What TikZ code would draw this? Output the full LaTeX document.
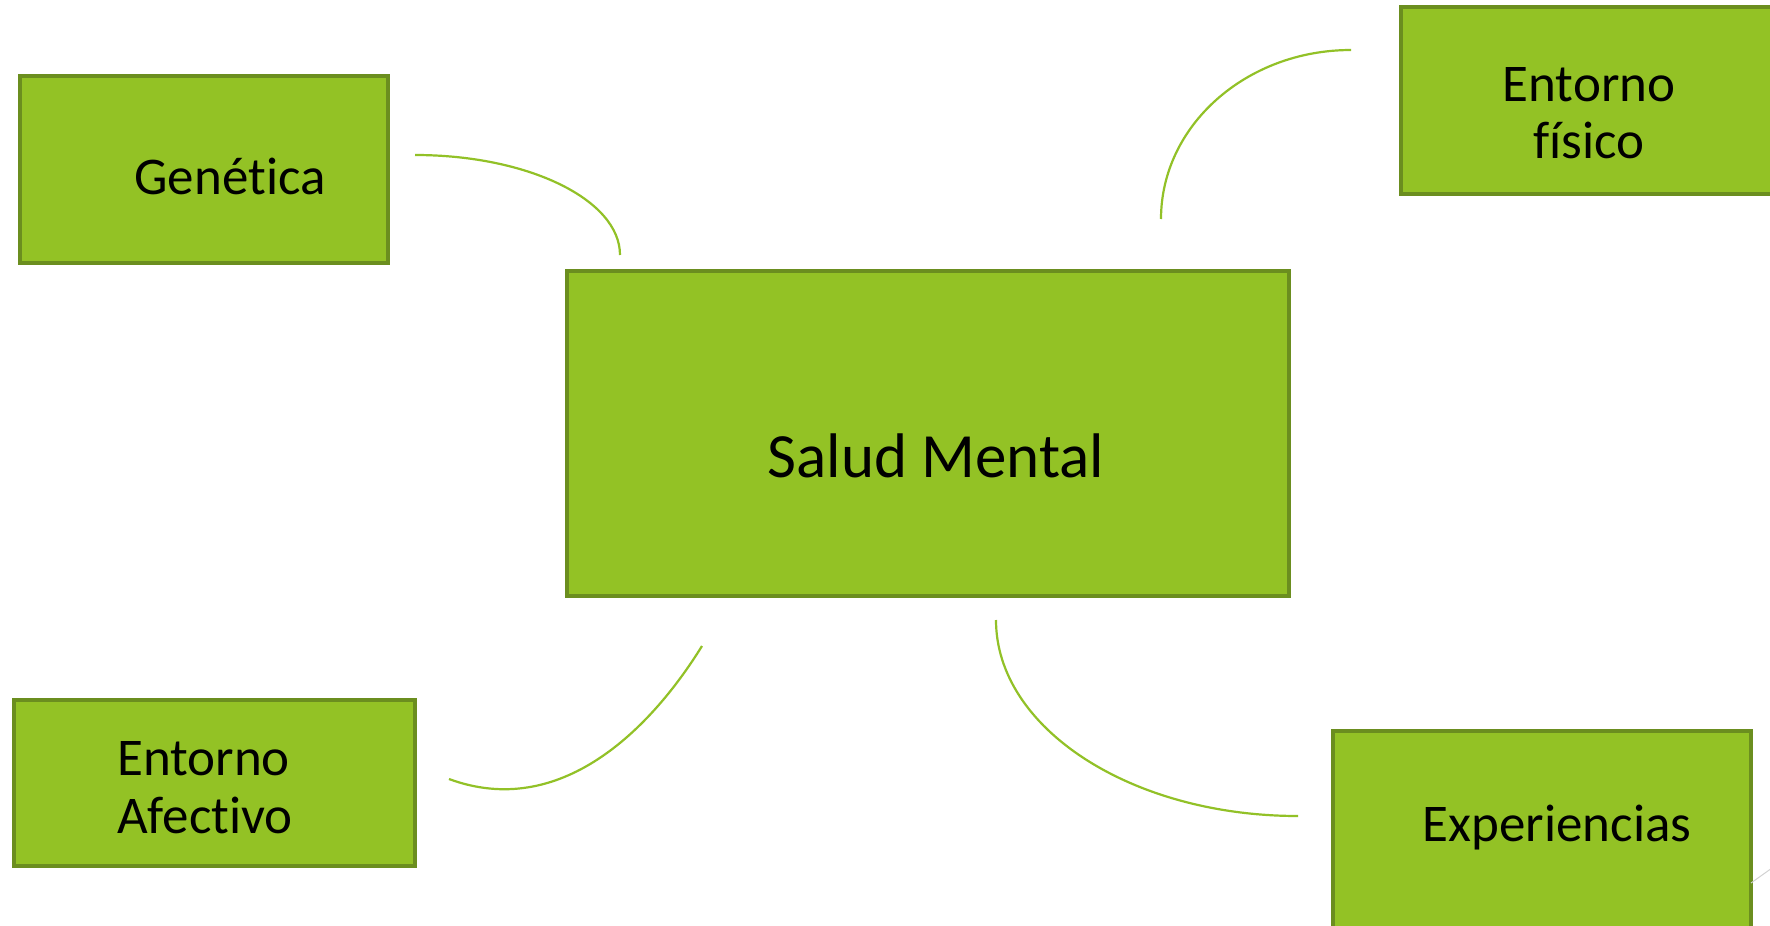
\documentclass[tikz,border=0pt]{standalone}
\usepackage{fontspec}
\setmainfont{Carlito}[Ligatures=NoCommon]
\definecolor{boxfill}{HTML}{93C225}
\definecolor{boxline}{HTML}{6B8E1F}
\definecolor{curve}{HTML}{92C127}
\begin{document}
\begin{tikzpicture}[x=1pt,y=-1pt,
  box/.style={rectangle, draw=boxline, fill=boxfill, line width=3.5pt, inner sep=0pt},
  lbl/.style={inner sep=0pt, text=black, font=\fontsize{53}{58}\selectfont},
  biglbl/.style={inner sep=0pt, text=black, font=\fontsize{63}{70}\selectfont},
  link/.style={draw=curve, line width=2.2pt}]
\useasboundingbox (0,0) rectangle (1770,926);
\fill[white] (0,0) rectangle (1770,926);

% boxes
\node[box, minimum width=368pt, minimum height=187pt] (gen) at (204,169.5) {};
\node[box, minimum width=389pt, minimum height=187pt] (fis) at (1595.5,100.5) {};
\node[box, minimum width=722pt, minimum height=325pt] (sal) at (928,433.5) {};
\node[box, minimum width=401pt, minimum height=166pt] (afe) at (214.5,783) {};
\node[box, minimum width=418pt, minimum height=219pt] (exp) at (1542,840.5) {};

% labels
\node[lbl, anchor=base] (tgen) at (230,194) {Genética};
\node[lbl, anchor=base] (tfis1) at (1589,101.5) {Entorno};
\node[lbl, anchor=base] (tfis2) at (1589,158) {físico};
\node[biglbl, anchor=base] (tsal) at (936,477.5) {Salud Mental};
\node[lbl, anchor=base west] (tafe1) at (117,775.5) {Entorno};
\node[lbl, anchor=base west] (tafe2) at (117,833) {Afectivo};
\node[lbl, anchor=base] (texp) at (1557,841) {Experiencias};

% connector curves
\coordinate (c1) at (415,155);
\coordinate (c2) at (1351,50);
\coordinate (c3s) at (702,646);
\coordinate (c3e) at (449,779);
\coordinate (c4) at (996,620);
\draw[link] (c1) arc[start angle=-90, end angle=0, x radius=205, y radius=100];
\draw[link] (c2) arc[start angle=-90, end angle=-180, x radius=190, y radius=169];
\draw[link] (c3s) .. controls (650,730) and (560,820) .. (c3e);
\draw[link] (c4) arc[start angle=180, end angle=90, x radius=302, y radius=196];

% faint corner line
\coordinate (g1) at (1751,883);
\coordinate (g2) at (1772,868);
\draw[gray!35, line width=1pt] (g1) -- (g2);
\end{tikzpicture}
\end{document}
